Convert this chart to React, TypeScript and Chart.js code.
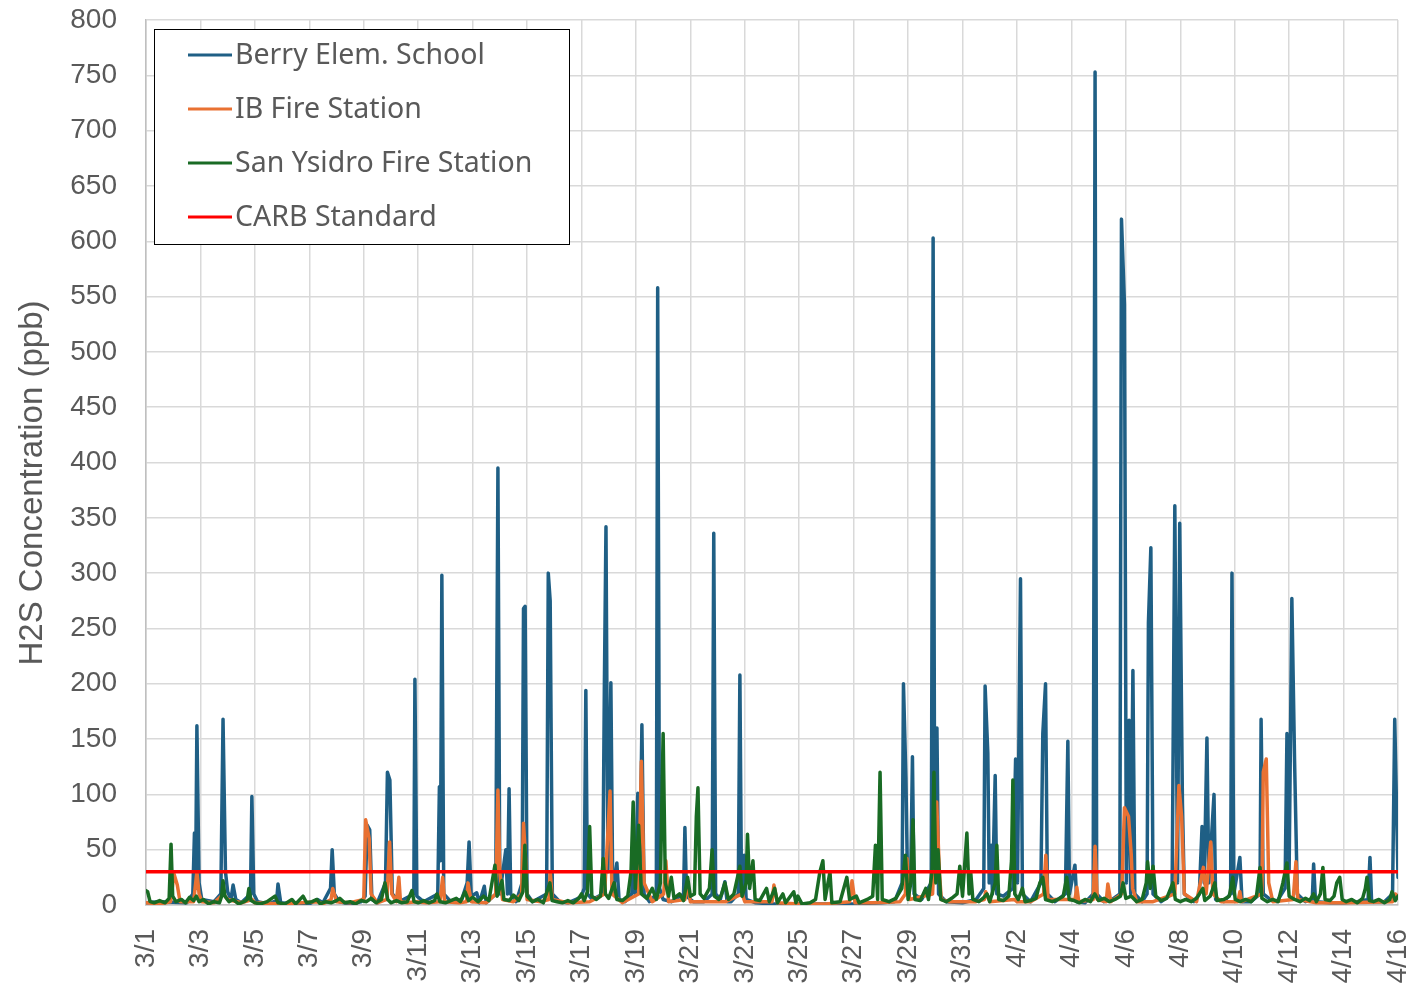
import React, { useEffect, useRef } from "react";
import { Chart, registerables } from "chart.js";

Chart.register(...registerables);

// x = days since 3/1, y = H2S concentration (ppb)
const xTickLabels = ["3/1","3/3","3/5","3/7","3/9","3/11","3/13","3/15","3/17","3/19","3/21","3/23","3/25","3/27","3/29","3/31","4/2","4/4","4/6","4/8","4/10","4/12","4/14","4/16"];
const yTicks = { min: 0, max: 800, step: 50 };
const carbStandard = 30;
const carbDays = [0, 46];

const berryPoints: [number, number][] = [
  [0,2],[0.5,3],[1.5,2],[1.72,10],[1.78,65],[1.82,15],[1.87,162],[1.95,20],[2.05,5],[2.5,3],[2.75,10],[2.83,168],[2.92,30],[3.0,12],[3.12,5],[3.2,18],[3.3,5],[3.5,2],
  [3.84,10],[3.89,98],[3.96,10],[4.1,3],[4.5,1],[4.8,4],[4.85,19],[4.95,2],[5.5,1],[6.0,1],[6.3,5],[6.5,2],[6.78,15],[6.84,50],[6.92,10],[7.1,3],[7.5,1],[7.9,3],
  [8.05,8],[8.13,72],[8.22,68],[8.3,5],[8.5,2],[8.8,20],[8.87,120],[8.96,113],[9.05,10],[9.3,3],[9.84,10],[9.88,204],[9.95,8],[10.2,3],[10.72,10],[10.78,107],[10.82,40],[10.87,298],[10.94,10],
  [11.2,3],[11.6,5],[11.8,20],[11.87,57],[11.95,8],[12.15,11],[12.25,2],[12.43,17],[12.5,2],[12.85,10],[12.93,395],[13.0,10],[13.22,50],[13.28,10],[13.34,105],[13.4,10],[13.6,3],
  [13.82,20],[13.87,268],[13.93,270],[14.0,10],[14.2,3],[14.72,10],[14.78,300],[14.85,275],[14.93,10],[15.2,3],[15.5,2],[15.8,5],[16.0,8],[16.1,15],[16.16,194],[16.22,10],[16.4,5],
  [16.78,10],[16.84,195],[16.9,342],[16.97,30],[17.08,201],[17.15,10],[17.3,38],[17.38,5],[17.6,3],[17.85,10],[17.9,60],[17.98,10],[18.07,101],[18.14,20],[18.22,163],[18.3,10],[18.5,3],
  [18.75,10],[18.8,558],[18.87,15],[19.0,5],[19.3,3],[19.75,10],[19.8,70],[19.86,8],[20.1,3],[20.5,3],[20.8,10],[20.86,336],[20.93,10],[21.1,5],[21.27,21],[21.35,3],[21.5,3],
  [21.76,10],[21.82,208],[21.88,10],[21.98,45],[22.05,5],[22.4,2],[23,1],[24,1],[25,1],[26,1],[27,2],[27.5,3],[27.78,20],[27.83,200],[27.92,115],[27.98,20],[28.1,30],[28.16,134],[28.22,10],
  [28.5,5],[28.85,20],[28.92,603],[28.98,30],[29.06,160],[29.12,10],[29.4,3],[30.0,2],[30.5,5],[30.78,15],[30.83,198],[30.93,137],[30.98,20],[31.05,54],[31.1,10],[31.2,117],[31.26,10],
  [31.5,8],[31.85,15],[31.95,132],[32.02,20],[32.13,295],[32.2,10],[32.5,3],[32.88,20],[32.95,155],[33.05,200],[33.12,10],[33.4,3],[33.78,10],[33.87,148],[33.93,10],[34.13,36],[34.2,3],
  [34.5,2],[34.8,10],[34.87,753],[34.93,10],[35.2,3],[35.5,5],[35.78,10],[35.84,620],[35.95,543],[36.02,20],[36.12,167],[36.18,10],[36.26,212],[36.33,10],[36.6,3],[36.78,10],[36.83,255],
  [36.92,323],[37.0,10],[37.3,3],[37.7,10],[37.8,361],[37.9,20],[37.98,345],[38.08,92],[38.15,10],[38.5,3],[38.7,10],[38.8,71],[38.88,20],[38.98,151],[39.05,20],[39.24,100],[39.3,5],
  [39.6,3],[39.85,10],[39.9,300],[39.97,10],[40.19,43],[40.27,3],[40.6,3],[40.93,10],[40.97,168],[41.05,10],[41.3,5],[41.55,3],[41.85,15],[41.92,155],[42.0,30],[42.1,277],[42.2,130],
  [42.3,10],[42.6,3],[42.85,5],[42.9,37],[42.97,3],[43.5,2],[44.0,2],[44.5,3],[44.9,5],[44.97,43],[45.03,3],[45.5,3],[45.8,10],[45.88,168],[46.0,25]
];

const ibPoints: [number, number][] = [
  [0,2],[0.5,1],[0.9,3],[1.03,28],[1.15,18],[1.25,3],[1.75,3],[1.87,30],[1.95,10],[2.05,3],[2.5,2],[2.85,10],[3.0,5],[3.5,2],[3.9,5],[4.0,2],[5,1],[6.3,3],[6.5,1],[6.8,5],[6.86,15],
  [7.0,3],[7.5,2],[8.0,5],[8.07,77],[8.2,60],[8.27,10],[8.5,2],[8.85,5],[8.95,57],[9.03,10],[9.2,3],[9.29,25],[9.35,3],[9.6,2],[9.9,3],[10.3,2],[10.8,3],[10.9,25],[10.97,3],[11.5,2],
  [11.78,3],[11.83,20],[11.95,3],[12.5,2],[12.85,10],[12.93,104],[13.0,30],[13.1,5],[13.5,3],[13.8,10],[13.87,74],[13.95,40],[14.0,5],[14.5,3],[14.8,5],[14.85,30],[14.93,5],[15.5,2],
  [16.3,3],[16.85,10],[17.05,103],[17.12,10],[17.5,2],[18.1,10],[18.2,130],[18.3,20],[18.6,3],[19.02,10],[19.1,40],[19.2,3],[19.8,5],[19.9,20],[20.0,3],[20.5,3],[21.3,3],[21.9,10],
  [22.0,3],[22.3,3],[23.0,3],[23.07,18],[23.2,2],[24,1],[25,1],[25.85,3],[25.94,22],[26.05,2],[26.7,2],[27.7,3],[27.9,10],[27.96,42],[28.05,5],[28.9,10],[29.05,93],[29.15,30],[29.22,5],
  [29.5,3],[30.5,3],[30.8,5],[30.85,12],[31.0,3],[31.9,5],[32.0,3],[32.5,3],[32.98,10],[33.06,45],[33.14,5],[34.13,5],[34.2,16],[34.27,3],[34.8,5],[34.87,53],[34.95,5],[35.28,3],[35.34,19],
  [35.45,3],[35.85,10],[35.95,88],[36.1,80],[36.2,45],[36.25,15],[36.4,3],[37.0,3],[37.8,10],[37.95,108],[38.05,80],[38.15,10],[38.6,3],[38.85,34],[38.95,10],[39.12,57],[39.2,10],
  [39.5,3],[40.12,3],[40.19,12],[40.25,3],[41.0,10],[41.05,120],[41.16,132],[41.25,20],[41.4,3],[42.15,5],[42.25,39],[42.32,5],[43,2],[44,2],[45.8,3],[45.9,10],[46,8]
];

const sanYsidroPoints: [number, number][] = [
  [0,13],[0.06,12],[0.15,3],[0.3,2],[0.5,4],[0.7,2],[0.85,6],[0.92,55],[0.98,8],[1.1,3],[1.3,5],[1.45,2],[1.6,7],[1.75,4],[1.85,8],[1.95,3],[2.1,5],[2.3,1],[2.5,3],[2.7,2],[2.78,8],[2.83,22],
  [2.9,8],[3.05,3],[3.2,5],[3.4,1],[3.6,3],[3.72,5],[3.78,15],[3.86,4],[4.0,2],[4.2,1],[4.45,3],[4.74,8],[4.85,2],[5.1,1],[5.36,5],[5.5,1],[5.77,8],[5.9,2],[6.1,3],[6.28,5],[6.4,1],[6.6,3],
  [6.8,2],[7.0,4],[7.12,6],[7.3,2],[7.5,3],[7.7,1],[7.9,4],[8.1,3],[8.27,6],[8.45,2],[8.65,5],[8.78,20],[8.88,5],[9.0,2],[9.2,4],[9.4,2],[9.6,3],[9.77,13],[9.85,3],[10.0,2],[10.2,4],
  [10.4,2],[10.6,4],[10.69,10],[10.8,3],[11.0,2],[11.2,4],[11.4,6],[11.55,3],[11.72,12],[11.85,4],[12.0,7],[12.2,3],[12.4,8],[12.6,4],[12.82,36],[12.9,8],[13.08,22],[13.15,5],[13.35,4],
  [13.5,9],[13.7,4],[13.85,12],[13.92,54],[14.0,8],[14.2,3],[14.4,5],[14.6,2],[14.84,20],[14.92,4],[15.1,3],[15.3,2],[15.5,4],[15.7,2],[15.9,6],[16.0,10],[16.1,4],[16.22,12],[16.3,71],
  [16.38,8],[16.55,5],[16.7,8],[16.8,42],[16.88,10],[17.0,6],[17.2,20],[17.3,5],[17.5,4],[17.7,8],[17.82,30],[17.9,93],[17.98,15],[18.1,72],[18.2,10],[18.4,6],[18.6,15],[18.75,5],[18.9,20],
  [19.0,155],[19.08,20],[19.2,8],[19.3,25],[19.4,6],[19.6,10],[19.75,4],[19.9,25],[20.0,8],[20.15,10],[20.22,80],[20.28,106],[20.36,10],[20.5,6],[20.7,15],[20.8,50],[20.88,8],[21.05,5],
  [21.15,10],[21.27,20],[21.4,5],[21.6,10],[21.82,35],[21.9,8],[22.05,20],[22.1,64],[22.18,15],[22.3,40],[22.38,5],[22.55,4],[22.8,15],[22.9,3],[23.1,15],[23.2,2],[23.4,10],[23.5,2],
  [23.8,12],[23.88,2],[23.95,8],[24.1,1],[24.4,2],[24.6,5],[24.76,30],[24.87,40],[24.95,5],[25.13,30],[25.2,2],[25.5,3],[25.75,25],[25.85,5],[26.1,8],[26.2,2],[26.5,5],[26.7,8],[26.8,54],
  [26.88,5],[26.97,120],[27.05,5],[27.3,3],[27.55,6],[27.77,15],[27.9,45],[28.0,5],[28.1,20],[28.18,77],[28.25,5],[28.45,4],[28.65,15],[28.75,5],[28.88,30],[28.95,120],[29.02,20],[29.1,50],
  [29.2,5],[29.4,3],[29.6,6],[29.8,10],[29.9,35],[30.0,8],[30.16,65],[30.24,10],[30.3,30],[30.38,5],[30.6,3],[30.75,6],[30.9,10],[31.0,3],[31.2,20],[31.26,54],[31.33,5],[31.5,4],[31.7,8],
  [31.8,40],[31.85,113],[31.92,10],[32.05,5],[32.2,15],[32.3,3],[32.5,4],[32.7,6],[32.84,20],[32.95,25],[33.05,5],[33.3,3],[33.5,5],[33.7,8],[33.83,25],[33.92,5],[34.1,4],[34.3,2],[34.5,5],
  [34.7,3],[34.86,10],[35.0,4],[35.2,6],[35.4,3],[35.6,5],[35.8,8],[35.9,20],[36.0,6],[36.2,8],[36.4,3],[36.6,5],[36.75,20],[36.8,39],[36.9,15],[37.0,35],[37.1,8],[37.3,4],[37.5,6],
  [37.73,20],[37.82,5],[38.0,3],[38.2,5],[38.4,3],[38.6,6],[38.83,15],[38.9,4],[39.1,8],[39.27,20],[39.35,4],[39.6,5],[39.8,8],[39.93,25],[40.02,5],[40.2,3],[40.4,5],[40.6,3],[40.8,8],
  [40.93,34],[41.0,6],[41.2,3],[41.4,5],[41.6,3],[41.77,20],[41.92,38],[42.0,8],[42.2,5],[42.4,3],[42.6,6],[42.75,4],[42.9,10],[43.0,3],[43.15,10],[43.24,34],[43.32,5],[43.5,4],[43.65,8],
  [43.75,20],[43.86,25],[43.95,5],[44.1,3],[44.3,5],[44.5,2],[44.7,6],[44.8,15],[44.86,25],[44.95,4],[45.1,3],[45.3,5],[45.5,2],[45.7,5],[45.78,12],[45.9,4],[46.0,8]
];

const seriesNames = ["Berry Elem. School", "IB Fire Station", "San Ysidro Fire Station", "CARB Standard"];
const seriesColors = ["#1F5F85", "#E97132", "#196B24", "#FF0000"];
const yTitle = "H2S Concentration (ppb)";

const TICK_FONT = { family: "'Liberation Sans', Arial, sans-serif", size: 28 };
const TEXT_COLOR = "#595959";

const legendAndTitlePlugin = {
  id: "customLegendTitle",
  afterDraw(chart: any) {
    const ctx = chart.ctx;
    ctx.save();
    ctx.translate(33, 483);
    ctx.rotate(-Math.PI / 2);
    ctx.font = "33px 'Liberation Sans', Arial, sans-serif";
    ctx.fillStyle = TEXT_COLOR;
    ctx.textAlign = "center";
    ctx.textBaseline = "middle";
    ctx.fillText(yTitle, 0, 0);
    ctx.restore();

    ctx.save();
    const bx = 154.5, by = 29.5, bw = 415, bh = 215;
    ctx.fillStyle = "#ffffff";
    ctx.fillRect(bx, by, bw, bh);
    ctx.strokeStyle = "#000000";
    ctx.lineWidth = 1;
    ctx.strokeRect(bx, by, bw, bh);
    ctx.font = "28.5px 'Noto Sans', sans-serif";
    ctx.textBaseline = "middle";
    ctx.textAlign = "left";
    chart.data.datasets.forEach((ds: any, i: number) => {
      const y = 55 + i * 54;
      ctx.strokeStyle = ds.borderColor;
      ctx.lineWidth = 3;
      ctx.beginPath();
      ctx.moveTo(188, y);
      ctx.lineTo(232, y);
      ctx.stroke();
      ctx.fillStyle = TEXT_COLOR;
      ctx.fillText(ds.label, 235, y + 1);
    });
    ctx.restore();
  },
};

export default function App() {
  const canvasRef = useRef<HTMLCanvasElement | null>(null);

  useEffect(() => {
    document.body.style.margin = "0";
    const canvas = canvasRef.current;
    if (!canvas) return;
    const toXY = (pts: [number, number][]) => pts.map(([x, y]) => ({ x, y }));
    const chart = new Chart(canvas, {
      type: "line",
      data: {
        datasets: [
          { label: seriesNames[0], data: toXY(berryPoints), borderColor: seriesColors[0], backgroundColor: seriesColors[0], borderWidth: 3.5, order: 3 },
          { label: seriesNames[1], data: toXY(ibPoints), borderColor: seriesColors[1], backgroundColor: seriesColors[1], borderWidth: 3.5, order: 2 },
          { label: seriesNames[2], data: toXY(sanYsidroPoints), borderColor: seriesColors[2], backgroundColor: seriesColors[2], borderWidth: 3.5, order: 1 },
          { label: seriesNames[3], data: carbDays.map((d) => ({ x: d, y: carbStandard })), borderColor: seriesColors[3], backgroundColor: seriesColors[3], borderWidth: 3.5, order: 0 },
        ],
      },
      options: {
        animation: false,
        responsive: true,
        maintainAspectRatio: false,
        parsing: false as any,
        layout: { padding: { top: 20, right: 16, left: 0, bottom: 0 } },
        elements: { point: { radius: 0 }, line: { tension: 0, borderJoinStyle: "round", borderCapStyle: "round" } },
        plugins: { legend: { display: false }, tooltip: { enabled: false } },
        scales: {
          x: {
            type: "linear",
            min: 0,
            max: 46,
            ticks: {
              stepSize: 2,
              autoSkip: false,
              minRotation: 90,
              maxRotation: 90,
              padding: 24,
              font: TICK_FONT,
              color: TEXT_COLOR,
              callback: (v: any) => xTickLabels[Math.round(Number(v) / 2)] ?? "",
            },
            grid: { color: "#d9d9d9", lineWidth: 1.5, drawTicks: false },
            border: { color: "#bfbfbf", width: 1.5 },
            afterFit: (s: any) => { s.height = 82; s.paddingLeft = 0; s.paddingRight = 0; },
          },
          y: {
            min: yTicks.min,
            max: yTicks.max,
            ticks: { stepSize: yTicks.step, padding: 29, font: TICK_FONT, color: TEXT_COLOR },
            grid: { color: "#d9d9d9", lineWidth: 1.5, drawTicks: false },
            border: { color: "#bfbfbf", width: 1.5 },
            afterFit: (s: any) => { s.width = 146; s.paddingTop = 0; s.paddingBottom = 0; },
          },
        },
      },
      plugins: [legendAndTitlePlugin],
    });
    return () => chart.destroy();
  }, []);

  return (
    <div style={{ position: "fixed", left: 0, top: 0, width: 1414, height: 987, background: "#fff" }}>
      <canvas ref={canvasRef} />
    </div>
  );
}
